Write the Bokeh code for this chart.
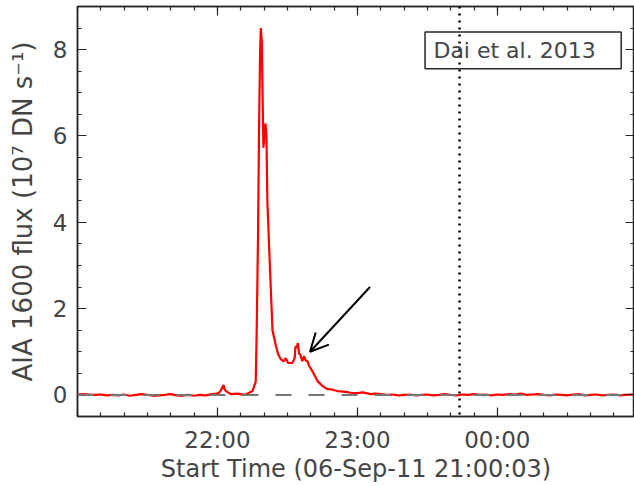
from bokeh.plotting import figure
from bokeh.models import (FixedTicker, LinearAxis, Span, BoxAnnotation, Label,
                          Arrow, OpenHead, Range1d)
from bokeh.embed import file_html
from bokeh.resources import INLINE

# minutes after 21:00:03 on 06-Sep-11
time_min = [0, 2.5, 5, 7.5, 10, 12.5, 15, 17.5, 20, 22.5, 25, 27.5, 30, 32.5, 35,
            37.5, 40, 42.5, 45, 47.5, 50, 52.5, 55, 57.5, 59.5,
            60.6, 61.4, 62.6, 63.1, 64.4, 65.7, 68.7, 71.4, 72.9, 75.0, 75.7, 76.4,
            76.8, 77.4, 77.8, 78.3, 78.6, 79.0, 79.7, 80.6, 81.0, 81.4, 82.5, 83.6,
            85.0, 86.0, 87.1, 88.4, 89.3, 90.3, 92.1, 93.1, 93.5, 94.0, 94.5, 95.0,
            95.4, 96.4, 97.1, 97.8, 98.6, 99.3, 100.7, 101.4, 102.9, 105.0, 106.9,
            108.6, 111.4, 112.8, 115.0, 117.1, 120.0, 122.3, 125.7,
            127.5, 130, 132.5, 135, 137.5, 140, 142.5, 145, 147.5, 150, 152.5, 155,
            157.5, 160, 162.5, 165, 167.5, 170, 172.5, 175, 177.5, 180, 182.5, 185,
            187.5, 190, 192.5, 195, 197.5, 200, 202.5, 205, 207.5, 210, 212.5, 215,
            217.5, 220, 222.5, 225, 227.5, 230, 232.5, 235, 237.5, 240]
flux = [0.01, 0.02, 0.01, 0.0, 0.01, -0.01, 0.0, -0.01, 0.01, -0.02, 0.0, 0.02, 0.0,
        -0.02, -0.01, 0.0, 0.02, -0.01, -0.02, 0.0, -0.02, 0.0, -0.01, 0.02, 0.03,
        0.04, 0.10, 0.23, 0.12, 0.06, 0.02, 0.03, 0.0, 0.03, 0.09, 0.20, 0.30,
        1.4, 3.7, 6.0, 8.0, 8.5, 8.2, 5.73, 6.29, 6.0, 4.5, 2.95, 1.5,
        1.15, 0.95, 0.83, 0.78, 0.85, 0.74, 0.74, 0.85, 1.13, 1.10, 1.20, 0.95,
        0.95, 0.78, 0.90, 0.80, 0.78, 0.67, 0.55, 0.48, 0.32, 0.21, 0.14,
        0.13, 0.09, 0.08, 0.07, 0.05, 0.04, 0.06, 0.02,
        0.03, 0.02, 0.0, 0.01, -0.01, 0.0, 0.01, -0.01, 0.0, 0.01, -0.01, 0.0,
        0.02, 0.0, -0.01, 0.01, 0.0, 0.02, 0.0, 0.01, -0.01, 0.01, 0.0, 0.02,
        0.01, 0.03, 0.0, 0.01, 0.02, 0.0, -0.01, 0.01, 0.0, -0.01, 0.01, 0.02,
        -0.01, 0.0, 0.01, -0.01, 0.0, 0.01, -0.01, 0.0, 0.01, 0.0]

x_major = [60, 120, 180]
x_labels = ["22:00", "23:00", "00:00"]
x_minor = list(range(0, 250, 10))
y_major = [0, 2, 4, 6, 8]
y_minor = [-0.5 + 0.5 * i for i in range(20)]

flare_time = 163.8          # dotted vertical marker
legend_text = "Dai et al. 2013"

FONT = "DejaVu Sans"
TXT = "#454545"
AX = "#262626"

p = figure(width=634, height=486, output_backend="svg", toolbar_location=None,
           x_range=Range1d(0, 238.8), y_range=Range1d(-0.5, 9.0),
           min_border_left=77, min_border_right=0, min_border_top=6,
           min_border_bottom=70)
p.grid.visible = False
p.outline_line_color = AX
p.outline_line_width = 1.5

bottom = p.below[0]
left = p.left[0]
bottom.axis_label = "Start Time (06-Sep-11 21:00:03)"
left.axis_label = "AIA 1600 flux (10\u2077 DN s\u207b\u00b9)"

xt = FixedTicker(ticks=x_major, minor_ticks=x_minor)
yt = FixedTicker(ticks=y_major, minor_ticks=y_minor)
bottom.ticker = xt
left.ticker = yt
bottom.major_label_overrides = {m: l for m, l in zip(x_major, x_labels)}

top = LinearAxis(ticker=xt, major_label_standoff=0,
                 major_label_overrides={m: "" for m in x_major})
right = LinearAxis(ticker=yt, major_label_standoff=0,
                   major_label_overrides={m: "" for m in y_major})
p.add_layout(top, "above")
p.add_layout(right, "right")

for ax in [bottom, left, top, right]:
    ax.major_tick_in = 9
    ax.major_tick_out = 0
    ax.minor_tick_in = 4
    ax.minor_tick_out = 0
    ax.axis_line_color = AX
    ax.axis_line_width = 1.5
    ax.major_tick_line_color = AX
    ax.minor_tick_line_color = AX
    ax.major_tick_line_width = 1.2
    ax.minor_tick_line_width = 1.2
    ax.major_label_text_font = FONT
    ax.major_label_text_color = TXT
    ax.axis_label_text_font = FONT
    ax.axis_label_text_color = TXT
    ax.axis_label_text_font_style = "normal"

bottom.major_label_text_font_size = "23px"
bottom.axis_label_text_font_size = "24px"
bottom.major_label_standoff = 10
bottom.axis_label_standoff = -1
left.major_label_text_font_size = "23px"
left.axis_label_text_font_size = "26px"
left.major_label_standoff = 10
left.axis_label_standoff = 12

p.line(time_min, flux, line_color="#ff0000", line_width=2.2)

p.add_layout(Span(location=0, dimension="width", line_color="#767676",
                  line_width=2, line_dash="16 17"))
p.add_layout(Span(location=flare_time, dimension="height", line_color="black",
                  line_width=2.5, line_dash="2 5"))

p.add_layout(BoxAnnotation(left=149.0, right=233.1, bottom=7.56, top=8.41,
                           fill_alpha=0, line_color=AX, line_alpha=1.0,
                           line_width=1.5))
p.add_layout(Label(x=152.6, y=7.98, text=legend_text, text_font=FONT,
                   text_font_size="22px", text_color=TXT, text_baseline="middle"))

p.add_layout(Arrow(end=OpenHead(size=18, line_width=2, line_color="black"),
                   x_start=125.4, y_start=2.5, x_end=99.7, y_end=1.0,
                   line_width=2, line_color="black"))

open("out.html", "w").write(file_html(p, INLINE))
